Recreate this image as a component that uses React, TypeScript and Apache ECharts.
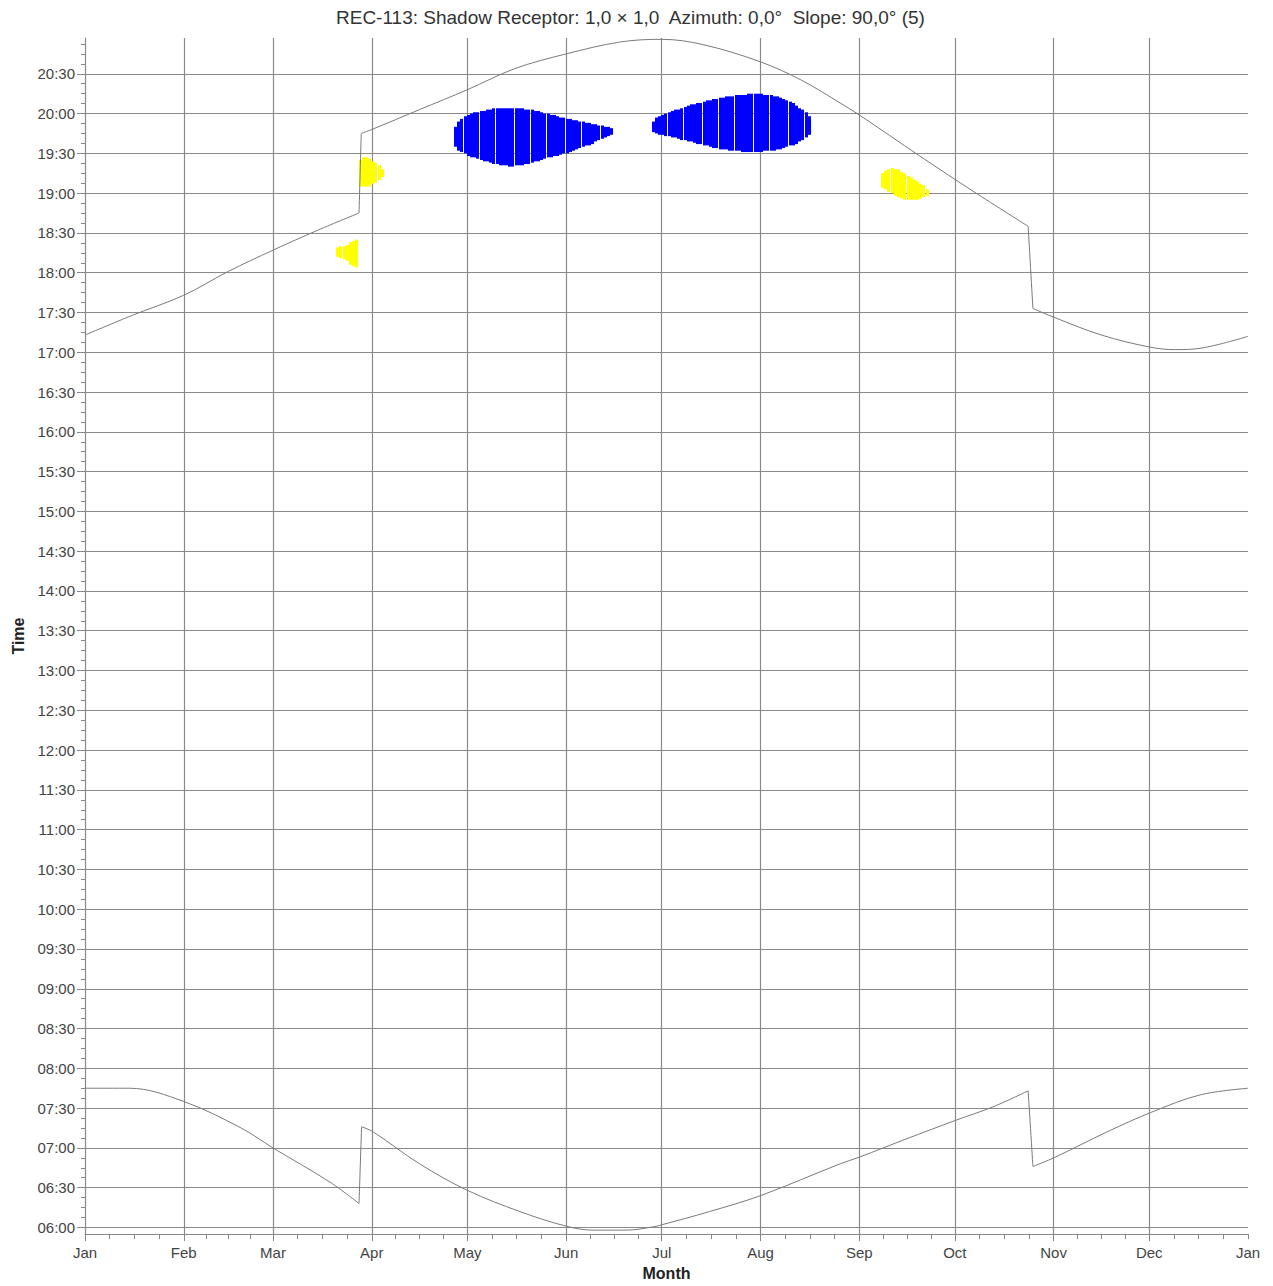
import React, { useEffect, useRef } from 'react';
import * as echarts from 'echarts';

const TITLE = 'REC-113: Shadow Receptor: 1,0 × 1,0  Azimuth: 0,0°  Slope: 90,0° (5)';
const FONT = '"Liberation Sans", Arial, sans-serif';

const monthLabels = ['Jan', 'Feb', 'Mar', 'Apr', 'May', 'Jun', 'Jul', 'Aug', 'Sep', 'Oct', 'Nov', 'Dec', 'Jan'];
const monthStartDays = [0, 31, 59, 90, 120, 151, 181, 212, 243, 273, 304, 334, 365];

const timeLabels = [
  '06:00', '06:30', '07:00', '07:30', '08:00', '08:30', '09:00', '09:30', '10:00', '10:30',
  '11:00', '11:30', '12:00', '12:30', '13:00', '13:30', '14:00', '14:30', '15:00', '15:30',
  '16:00', '16:30', '17:00', '17:30', '18:00', '18:30', '19:00', '19:30', '20:00', '20:30',
];
const Y_MIN = 355;
const Y_MAX = 1257;

// [day of year, minutes after midnight]
const sunrise: [number, number][] = [
  [0, 465], [14, 465], [31, 455], [49, 435], [59, 420], [77, 394], [86, 378], [86.8, 436],
  [90.5, 432], [105, 408], [120, 388], [136.5, 372], [151, 361], [159.5, 358], [170, 358],
  [178.4, 360.5], [181, 362], [196, 372], [212, 384], [237, 408], [243, 413], [258, 427],
  [273.5, 441], [285, 451], [296, 463], [297.5, 406], [304.5, 413], [320.7, 432],
  [334.8, 447], [350, 460], [365, 465],
];
const sunset: [number, number][] = [
  [0, 1033], [15, 1048], [31, 1063], [45, 1081], [59, 1097], [73, 1112], [86, 1125],
  [86.7, 1185], [90, 1188], [105, 1203], [120, 1218], [135, 1234], [151, 1245], [168, 1254],
  [181, 1256], [194, 1252], [212, 1239], [225, 1225], [237, 1208], [243, 1199], [262, 1168],
  [279, 1141], [296, 1115], [297.5, 1053], [304.5, 1046], [319, 1033], [334, 1024],
  [342, 1022], [350, 1023], [365, 1032],
];

// Shadow periods: first day, then per-day start / end minutes
const blueA_firstDay = 116;
const blueA_from = [
  1175, 1172, 1171, 1170, 1168, 1167, 1167, 1166, 1165, 1164,
  1164, 1163, 1162, 1162, 1161, 1161, 1161, 1160, 1160, 1161,
  1161, 1161, 1162, 1162, 1163, 1164, 1164, 1165, 1166, 1167,
  1167, 1168, 1168, 1169, 1170, 1170, 1171, 1172, 1173, 1174,
  1175, 1176, 1176, 1177, 1179, 1180, 1181, 1182, 1183, 1184,
];
const blueA_to = [
  1190, 1194, 1196, 1198, 1199, 1200, 1201, 1201, 1202, 1202,
  1203, 1203, 1204, 1204, 1204, 1204, 1204, 1204, 1204, 1204,
  1204, 1204, 1203, 1203, 1203, 1202, 1202, 1201, 1200, 1200,
  1199, 1199, 1198, 1197, 1197, 1196, 1196, 1195, 1195, 1194,
  1194, 1193, 1193, 1192, 1192, 1191, 1191, 1190, 1190, 1189,
];
const blueB_firstDay = 178;
const blueB_from = [
  1186, 1185, 1184, 1184, 1183, 1183, 1182, 1182, 1181, 1180,
  1180, 1179, 1179, 1178, 1177, 1177, 1176, 1176, 1175, 1174,
  1174, 1173, 1173, 1173, 1172, 1172, 1172, 1172, 1171, 1171,
  1171, 1171, 1171, 1171, 1171, 1172, 1172, 1172, 1172, 1173,
  1173, 1174, 1175, 1176, 1176, 1177, 1179, 1180, 1182, 1184,
];
const blueB_to = [
  1194, 1197, 1198, 1199, 1200, 1201, 1202, 1203, 1203, 1204,
  1205, 1206, 1207, 1207, 1208, 1208, 1209, 1210, 1210, 1211,
  1211, 1212, 1212, 1213, 1213, 1213, 1214, 1214, 1214, 1214,
  1215, 1215, 1215, 1215, 1215, 1214, 1214, 1214, 1213, 1213,
  1212, 1211, 1210, 1209, 1208, 1206, 1204, 1203, 1201, 1198,
];
const yellowA_firstDay = 79;
const yellowA_from = [1092, 1091, 1090, 1089, 1086, 1085, 1084];
const yellowA_to = [1099, 1100, 1100, 1101, 1103, 1104, 1105];
const yellowB_firstDay = 86;
const yellowB_from = [1145, 1145, 1145, 1145, 1147, 1148, 1150, 1152];
const yellowB_to = [1165, 1167, 1167, 1166, 1164, 1163, 1161, 1158];
const yellowC_firstDay = 250;
const yellowC_from = [1144, 1143, 1141, 1140, 1138, 1137, 1136, 1135, 1135, 1135, 1135, 1135, 1136, 1137, 1138];
const yellowC_to = [1155, 1157, 1158, 1159, 1158, 1158, 1156, 1155, 1153, 1152, 1150, 1149, 1147, 1146, 1143];

function toMinutes(s: string): number {
  const [h, m] = s.split(':').map(Number);
  return h * 60 + m;
}

function periods(first: number, from: number[], to: number[]): number[][] {
  return from.map((f, i) => [first + i, f, to[i]]);
}

// split a curve into pieces at clock changes (near-vertical steps)
function splitAtJumps(pts: [number, number][]): [number, number][][] {
  const pieces: [number, number][][] = [];
  let cur: [number, number][] = [pts[0]];
  for (let i = 1; i < pts.length; i++) {
    const dx = pts[i][0] - pts[i - 1][0];
    if (dx < 2) {
      pieces.push(cur);
      pieces.push([pts[i - 1], pts[i]]);
      cur = [pts[i]];
    } else {
      cur.push(pts[i]);
    }
  }
  pieces.push(cur);
  return pieces;
}

export default function App() {
  const ref = useRef<HTMLDivElement>(null);

  useEffect(() => {
    if (!ref.current) return;
    const chart = echarts.init(ref.current, null, { renderer: 'svg' });

    const timeValues = timeLabels.map(toMinutes);
    const yMinor: number[] = [];
    for (let v = timeValues[0]; v <= Y_MAX; v += 7.5) yMinor.push(v);
    const xMinor: number[] = [];
    for (let i = 0; i < monthStartDays.length - 1; i++) {
      const a = monthStartDays[i];
      const len = monthStartDays[i + 1] - a;
      for (let k = 0; k <= 4; k++) xMinor.push(a + (k * len) / 4);
    }

    const blue = [
      ...periods(blueA_firstDay, blueA_from, blueA_to),
      ...periods(blueB_firstDay, blueB_from, blueB_to),
    ];
    const yellow = [
      ...periods(yellowA_firstDay, yellowA_from, yellowA_to),
      ...periods(yellowB_firstDay, yellowB_from, yellowB_to),
      ...periods(yellowC_firstDay, yellowC_from, yellowC_to),
    ];

    const makeRender = (color: string) => (params: any, api: any) => {
      const d = api.value(0);
      const top = api.coord([d, api.value(2)]);
      const bot = api.coord([d, api.value(1)]);
      return {
        type: 'rect',
        shape: { x: Math.floor(top[0]), y: top[1], width: 3, height: bot[1] - top[1] },
        style: { fill: color },
      };
    };

    const gridColor = '#8a8a8a';
    const tickColor = '#888';

    const curveSeries = (name: string, pts: [number, number][]) =>
      splitAtJumps(pts).map((piece) => ({
        type: 'line',
        name,
        data: piece,
        xAxisIndex: 0,
        yAxisIndex: 0,
        symbol: 'none',
        showSymbol: false,
        smooth: 0.35,
        lineStyle: { color: '#7a7a7a', width: 1 },
        silent: true,
        z: 3,
      }));

    chart.setOption({
      animation: false,
      backgroundColor: '#fff',
      title: {
        text: TITLE,
        left: 331,
        top: 3,
        textStyle: { fontFamily: FONT, fontSize: 19, fontWeight: 'normal', color: '#333' },
      },
      grid: { left: 85, right: 25, top: 38, bottom: 51 },
      xAxis: [
        {
          type: 'value',
          min: 0,
          max: 365,
          position: 'bottom',
          name: 'Month',
          nameLocation: 'middle',
          nameGap: 30,
          nameTextStyle: { fontFamily: FONT, fontSize: 16, fontWeight: 'bold', color: '#222' },
          axisLine: { show: true, lineStyle: { color: tickColor, width: 1 } },
          axisTick: { show: true, length: 7, customValues: monthStartDays.slice(0, 12), lineStyle: { color: tickColor } },
          axisLabel: {
            customValues: monthStartDays,
            formatter: (v: number) => {
              const i = monthStartDays.indexOf(v);
              return i >= 0 ? monthLabels[i] : '';
            },
            fontFamily: FONT,
            fontSize: 15,
            color: '#444',
            margin: 11,
          },
          splitLine: { show: true, lineStyle: { color: gridColor, width: 1.2 } },
        },
        {
          type: 'value',
          min: 0,
          max: 365,
          position: 'bottom',
          offset: 0,
          axisLine: { show: false },
          axisTick: { show: true, length: 5, customValues: xMinor, lineStyle: { color: tickColor } },
          axisLabel: { show: false },
          splitLine: { show: false },
        },
      ],
      yAxis: [
        {
          type: 'value',
          min: Y_MIN,
          max: Y_MAX,
          position: 'left',
          name: 'Time',
          nameLocation: 'middle',
          nameGap: 59,
          nameTextStyle: { fontFamily: FONT, fontSize: 16, fontWeight: 'bold', color: '#222' },
          axisLine: { show: true, lineStyle: { color: tickColor, width: 1 } },
          axisTick: { show: true, length: 8, customValues: timeValues, lineStyle: { color: tickColor } },
          axisLabel: {
            customValues: timeValues,
            formatter: (v: number) => {
              const i = timeValues.indexOf(v);
              return i >= 0 ? timeLabels[i] : '';
            },
            fontFamily: FONT,
            fontSize: 15,
            color: '#444',
            margin: 10,
          },
          splitLine: { show: true, lineStyle: { color: gridColor, width: 1.2 } },
        },
        {
          type: 'value',
          min: Y_MIN,
          max: Y_MAX,
          position: 'left',
          offset: 0,
          axisLine: { show: false },
          axisTick: { show: true, length: 4, customValues: yMinor, lineStyle: { color: tickColor } },
          axisLabel: { show: false },
          splitLine: { show: false },
        },
      ],
      series: [
        {
          type: 'custom',
          name: 'Shadow (blue)',
          xAxisIndex: 0,
          yAxisIndex: 0,
          data: blue,
          encode: { x: 0, y: [1, 2] },
          renderItem: makeRender('#0000ff'),
          silent: true,
          z: 2,
        },
        {
          type: 'custom',
          name: 'Shadow (yellow)',
          xAxisIndex: 0,
          yAxisIndex: 0,
          data: yellow,
          encode: { x: 0, y: [1, 2] },
          renderItem: makeRender('#ffff00'),
          silent: true,
          z: 2,
        },
        ...curveSeries('Sunrise', sunrise),
        ...curveSeries('Sunset', sunset),
      ],
    });

    return () => chart.dispose();
  }, []);

  return (
    <div
      ref={ref}
      style={{ position: 'absolute', left: 0, top: 0, width: 1273, height: 1286, background: '#fff' }}
    />
  );
}
